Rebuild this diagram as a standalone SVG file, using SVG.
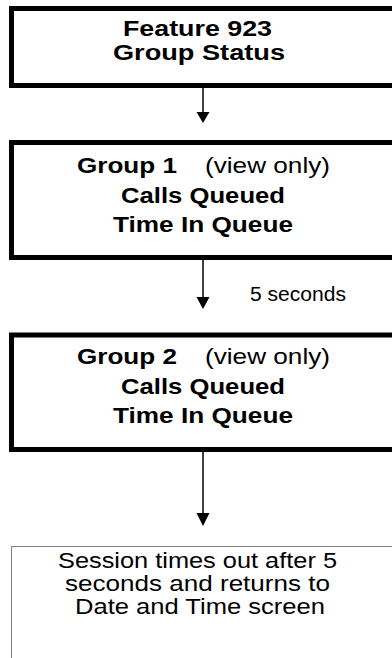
<svg xmlns="http://www.w3.org/2000/svg" width="392" height="658" viewBox="0 0 392 658">
<style>
.box{fill:#fff;stroke:#000;stroke-width:5}
.note{fill:#fff;stroke:#000;stroke-width:1;stroke-dasharray:1 1}
.b{font-family:"Liberation Sans",Arial,sans-serif;font-weight:bold;font-size:22px;fill:#000}
.r{font-family:"Liberation Sans",Arial,sans-serif;font-size:22px;fill:#000}
.s{font-family:"Liberation Sans",Arial,sans-serif;font-size:19.5px;fill:#000}
.ln{stroke:#000;stroke-width:1.5;fill:none}
</style>
<g id="node-feature">
<rect class="box" x="11.5" y="8.5" width="400" height="77"/>
<text class="b" x="123" y="35.5" textLength="149" lengthAdjust="spacingAndGlyphs">Feature 923</text>
<text class="b" x="113" y="59.5" textLength="172" lengthAdjust="spacingAndGlyphs">Group Status</text>
</g>
<g id="node-group1">
<rect class="box" x="11.5" y="142.5" width="400" height="115"/>
<text class="b" x="77" y="173" textLength="100" lengthAdjust="spacingAndGlyphs">Group 1</text>
<text class="r" x="205" y="173" textLength="125" lengthAdjust="spacingAndGlyphs">(view only)</text>
<text class="b" x="121" y="203" textLength="164" lengthAdjust="spacingAndGlyphs">Calls Queued</text>
<text class="b" x="113" y="232" textLength="180" lengthAdjust="spacingAndGlyphs">Time In Queue</text>
</g>
<g id="node-group2">
<rect class="box" x="11.5" y="335" width="400" height="114.5"/>
<text class="b" x="77" y="364" textLength="100" lengthAdjust="spacingAndGlyphs">Group 2</text>
<text class="r" x="205" y="364" textLength="125" lengthAdjust="spacingAndGlyphs">(view only)</text>
<text class="b" x="121" y="394" textLength="164" lengthAdjust="spacingAndGlyphs">Calls Queued</text>
<text class="b" x="113" y="423" textLength="180" lengthAdjust="spacingAndGlyphs">Time In Queue</text>
</g>
<g id="node-timeout">
<rect class="note" x="11.5" y="546.5" width="400" height="200"/>
<text class="r" x="58" y="568" textLength="279" lengthAdjust="spacingAndGlyphs">Session times out after 5</text>
<text class="r" x="65" y="591" textLength="265" lengthAdjust="spacingAndGlyphs">seconds and returns to</text>
<text class="r" x="75" y="614" textLength="250" lengthAdjust="spacingAndGlyphs">Date and Time screen</text>
</g>
<g id="connectors">
<line class="ln" x1="203" y1="88" x2="203" y2="112"/>
<polygon points="196.5,112 209.5,112 203,123"/>
<line class="ln" x1="203" y1="260" x2="203" y2="297"/>
<polygon points="196.5,297 209.5,297 203,309"/>
<text class="s" x="250" y="300.5" textLength="96" lengthAdjust="spacingAndGlyphs">5 seconds</text>
<line class="ln" x1="203" y1="452" x2="203" y2="513"/>
<polygon points="196.5,513 209.5,513 203,526"/>
</g>
</svg>
